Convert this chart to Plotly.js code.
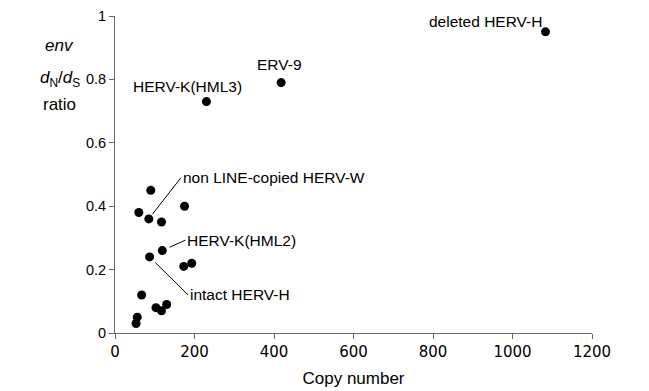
<!DOCTYPE html>
<html><head><meta charset="utf-8">
<script src="https://cdn.plot.ly/plotly-3.0.1.min.js"></script>
<style>html,body{margin:0;padding:0;background:#fff}</style>
</head><body>
<div id="chart" style="width:649px;height:391px"></div>
<script>
const copyNumber = [90, 60, 85, 117, 175, 119, 87, 173, 193, 67, 103, 117, 130, 56, 53, 230, 418, 1083];
const dnds       = [0.45, 0.38, 0.36, 0.35, 0.40, 0.26, 0.24, 0.21, 0.22, 0.12, 0.08, 0.07, 0.09, 0.05, 0.03, 0.73, 0.79, 0.95];
const xTicks = [0, 200, 400, 600, 800, 1000, 1200];
const yTicks = [0, 0.2, 0.4, 0.6, 0.8, 1];
const yTickLabels = ['0', '0.2', '0.4', '0.6', '0.8', '1'];

const labelFont = {family: 'Liberation Sans, Arial, sans-serif', size: 15.5, color: '#000'};
const titleFont = {family: 'Liberation Sans, Arial, sans-serif', size: 17, color: '#000'};
const data = [{
  x: copyNumber, y: dnds, type: 'scatter', mode: 'markers',
  marker: {color: '#000', size: 9}, hoverinfo: 'none', cliponaxis: false
}];
const arrowOpts = {showarrow: true, arrowhead: 0, arrowwidth: 1, arrowcolor: '#000', axref: 'x', ayref: 'y', xanchor: 'left', yanchor: 'middle', font: labelFont};
const annotations = [
  {x: 1083, y: 0.95, text: 'deleted HERV-H', showarrow: false, xanchor: 'right', yanchor: 'middle', xshift: -1, yshift: 10, font: labelFont},
  {x: 418, y: 0.79, text: 'ERV-9', showarrow: false, xanchor: 'center', yanchor: 'middle', xshift: -2, yshift: 18, font: labelFont},
  {x: 230, y: 0.73, text: 'HERV-K(HML3)', showarrow: false, xanchor: 'right', yanchor: 'middle', xshift: 38, yshift: 15, font: labelFont},
  Object.assign({x: 85, y: 0.36, ax: 166, ay: 0.49, text: 'non LINE-copied HERV-W', standoff: 6}, arrowOpts),
  Object.assign({x: 119, y: 0.26, ax: 177, ay: 0.293, text: 'HERV-K(HML2)', standoff: 8}, arrowOpts),
  Object.assign({x: 87, y: 0.24, ax: 184, ay: 0.12, text: 'intact HERV-H', standoff: 8}, arrowOpts),
  {xref: 'paper', yref: 'paper', x: -0.116, y: 0.906, text: '<i>env</i>', showarrow: false, xanchor: 'center', yanchor: 'middle', font: titleFont},
  {xref: 'paper', yref: 'paper', x: -0.116, y: 0.80, text: '<i>d</i><sub>N</sub>/<i>d</i><sub>S</sub>', showarrow: false, xanchor: 'center', yanchor: 'middle', font: titleFont},
  {xref: 'paper', yref: 'paper', x: -0.116, y: 0.722, text: 'ratio', showarrow: false, xanchor: 'center', yanchor: 'middle', font: titleFont}
];
const layout = {
  width: 649, height: 391,
  margin: {l: 115, r: 57, t: 16, b: 58},
  paper_bgcolor: '#fff', plot_bgcolor: '#fff',
  showlegend: false,
  xaxis: {
    range: [0, 1200], tickvals: xTicks, ticks: 'outside', ticklen: 5, tickcolor: '#666',
    showline: true, linecolor: '#666', linewidth: 1, showgrid: false, zeroline: false,
    tickfont: {family: 'DejaVu Sans, Verdana, sans-serif', size: 15, color: '#000'},
    title: {text: 'Copy number', font: {family: 'Liberation Sans, Arial, sans-serif', size: 17, color: '#000'}, standoff: 12}
  },
  yaxis: {
    range: [0, 1], tickvals: yTicks, ticktext: yTickLabels, ticks: 'outside', ticklen: 5, tickcolor: '#666',
    showline: true, linecolor: '#666', linewidth: 1, showgrid: false, zeroline: false,
    tickfont: {family: 'Liberation Sans, Arial, sans-serif', size: 14.5, color: '#000'}
  },
  annotations: annotations
};
Plotly.newPlot('chart', data, layout, {staticPlot: true});
</script>
</body></html>
